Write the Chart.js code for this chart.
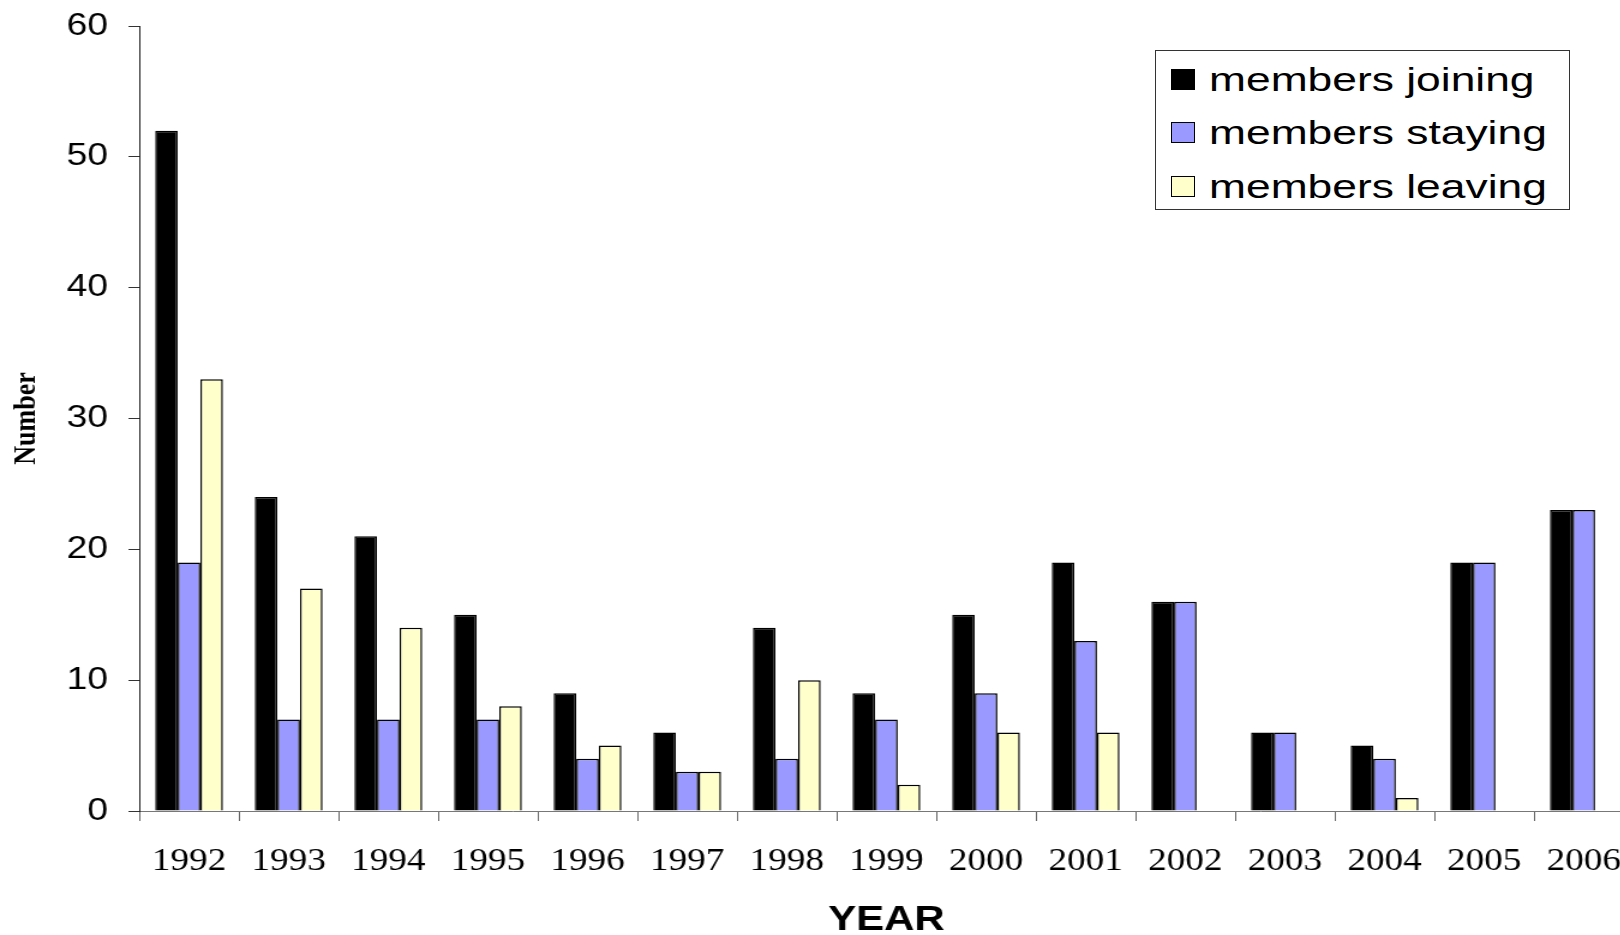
<!DOCTYPE html>
<html>
<head>
<meta charset="utf-8">
<script src="https://cdn.jsdelivr.net/npm/chart.js@4/dist/chart.umd.min.js"></script>
<style>
  html, body { margin: 0; padding: 0; background: #fff; overflow: hidden; }
  #wrap { position: relative; width: 1620px; height: 935px; overflow: hidden; }
  #c { position: absolute; left: 0; top: 0; }
  #legend { position: absolute; left: 1155px; top: 50px; width: 413px; height: 158px;
            border: 1px solid #333; background: #fff; }
  .row { position: absolute; left: 0; height: 40px; width: 100%; }
  .sw { position: absolute; left: 15px; top: 8px; width: 22px; height: 19px; border: 1.5px solid #000; }
  .tx { position: absolute; left: 53px; top: 0; font-family: "Liberation Sans", Arial, sans-serif;
        font-size: 34px; line-height: 36px; color: #000; white-space: nowrap;
        transform: scaleX(1.305); transform-origin: left center; }
</style>
</head>
<body>
<div id="wrap">
  <canvas id="c" width="1368" height="935" style="width:1641.6px;height:935px"></canvas>
  <div id="legend"></div>
</div>
<script>
const years = ['1992','1993','1994','1995','1996','1997','1998','1999','2000','2001','2002','2003','2004','2005','2006'];
const joining = [52, 24, 21, 15, 9, 6, 14, 9, 15, 19, 16, 6, 5, 19, 23];
const staying = [19, 7, 7, 7, 4, 3, 4, 7, 9, 13, 16, 6, 4, 19, 23];
const leaving = [33, 17, 14, 8, 5, 3, 10, 2, 6, 6, 0, 0, 1, 0, 0];
const seriesNames = ['members joining', 'members staying', 'members leaving'];
const seriesColors = ['#000000', '#9999FF', '#FFFFCC'];
const yTicks = [0, 10, 20, 30, 40, 50, 60];

const datasets = [joining, staying, leaving].map((d, i) => ({
  label: seriesNames[i],
  data: d,
  backgroundColor: seriesColors[i],
  borderColor: '#000',
  borderWidth: 1.5,
  categoryPercentage: 0.68,
  barPercentage: 1.0
}));

new Chart(document.getElementById('c'), {
  type: 'bar',
  data: { labels: years, datasets },
  options: {
    responsive: false,
    animation: false,
    devicePixelRatio: 1,
    layout: { padding: { left: 0, right: 7, top: 26, bottom: 0 } },
    plugins: { legend: { display: false }, tooltip: { enabled: false } },
    scales: {
      x: {
        grid: { display: true, drawOnChartArea: false, tickLength: 10, color: '#666', offset: true },
        border: { display: true, color: '#777', width: 1 },
        ticks: { color: '#000', padding: 22, maxRotation: 0, autoSkip: false,
                 font: { family: '"Liberation Serif", "Times New Roman", serif', size: 31 } },
        title: { display: true, text: 'YEAR', color: '#000', padding: { top: 0, bottom: 0 },
                 font: { family: '"Liberation Sans", Arial, sans-serif', size: 35, weight: 'bold', lineHeight: 0.85 } },
        afterFit: s => { s.height = 124; s.paddingLeft = 0; s.paddingRight = 0; }
      },
      y: {
        min: 0, max: 60,
        afterBuildTicks: s => { s.ticks = yTicks.map(v => ({ value: v })); },
        grid: { display: true, drawOnChartArea: false, tickLength: 9, color: '#333' },
        border: { display: true, color: '#222', width: 1 },
        ticks: { color: '#000', padding: 17,
                 font: { family: '"Liberation Sans", Arial, sans-serif', size: 31 } },
        title: { display: true, text: 'Number', color: '#000', padding: { top: 9, bottom: 0 },
                 font: { family: '"Liberation Serif", "Times New Roman", serif', size: 26, weight: 'bold', lineHeight: 1 } },
        afterFit: s => { s.width = 116; s.paddingTop = 0; s.paddingBottom = 0; }
      }
    }
  }
});

const leg = document.getElementById('legend');
const rowTops = [10, 63, 117];
seriesNames.forEach((name, i) => {
  const r = document.createElement('div');
  r.className = 'row';
  r.style.top = rowTops[i] + 'px';
  const sw = document.createElement('div');
  sw.className = 'sw';
  sw.style.background = seriesColors[i];
  const tx = document.createElement('div');
  tx.className = 'tx';
  tx.textContent = name;
  r.appendChild(sw); r.appendChild(tx);
  leg.appendChild(r);
});
</script>
</body>
</html>
